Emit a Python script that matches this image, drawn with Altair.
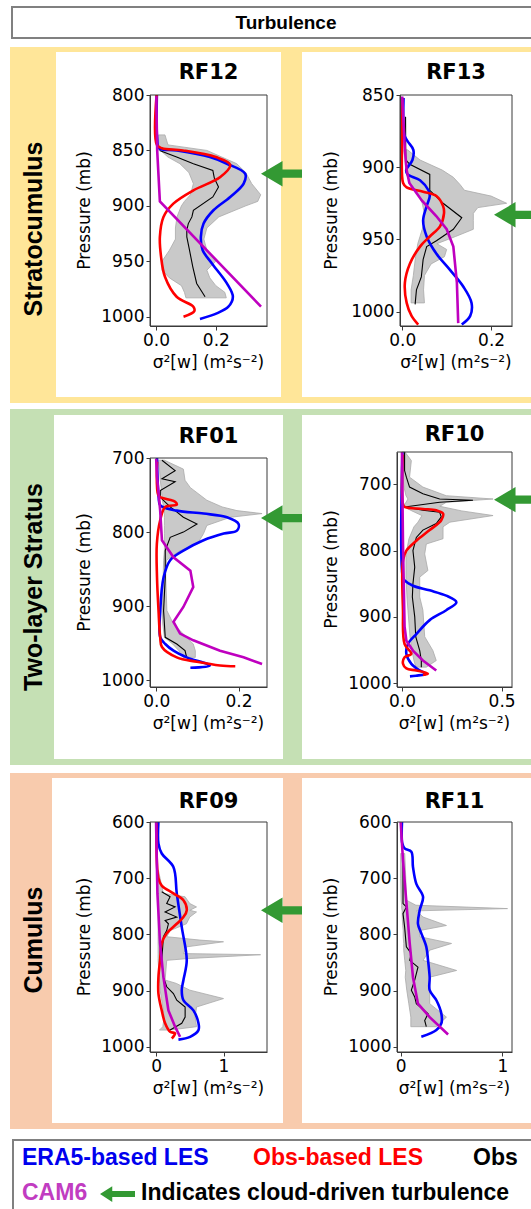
import altair as alt
import pandas as pd

W, H = 531, 1209

# ---------------- data ----------------
# RF12 (Stratocumulus)
RF12_BAND_P = [836, 845, 850, 856, 862, 870, 880, 890, 896, 900, 910, 920, 930, 940, 950, 958, 965, 972, 978, 983]
RF12_BAND_LO = [0.008, 0.008, 0.015, 0.04, 0.08, 0.11, 0.125, 0.115, 0.095, 0.085, 0.07, 0.065, 0.065, 0.045, 0.02, 0.02, 0.045, 0.085, 0.095, 0.10]
RF12_BAND_HI = [0.03, 0.04, 0.17, 0.22, 0.27, 0.30, 0.32, 0.35, 0.34, 0.30, 0.21, 0.17, 0.16, 0.17, 0.20, 0.17, 0.18, 0.20, 0.23, 0.235]
RF12_OBS_P = [850, 856, 862, 868, 875, 883, 892, 904, 910, 916, 922, 928, 940, 955, 970, 982]
RF12_OBS = [0.012, 0.069, 0.125, 0.19, 0.195, 0.209, 0.19, 0.125, 0.12, 0.108, 0.103, 0.103, 0.112, 0.123, 0.136, 0.164]
RF12_ERA5_P = [800, 840, 848, 850, 856, 862, 871, 880, 892, 904, 916, 928, 940, 952, 970, 982, 991, 997, 1002]
RF12_ERA5 = [0.003, 0.004, 0.01, 0.07, 0.18, 0.237, 0.298, 0.293, 0.248, 0.192, 0.159, 0.15, 0.156, 0.187, 0.237, 0.257, 0.242, 0.203, 0.147]
RF12_LES_P = [800, 845, 848, 850, 856, 863, 874, 886, 898, 910, 928, 946, 964, 982, 991, 995, 1000]
RF12_LES = [0.002, 0.003, 0.02, 0.09, 0.2, 0.248, 0.215, 0.125, 0.058, 0.025, 0.013, 0.017, 0.03, 0.069, 0.125, 0.128, 0.092]
RF12_CAM6_P = [801, 850, 896, 991]
RF12_CAM6 = [0.001, 0.004, 0.013, 0.351]

# RF13 (Stratocumulus)
RF13_BAND_P = [888, 895, 902, 907, 912, 916, 920, 925, 928, 932, 937, 943, 948, 953, 957, 962, 967, 975, 985, 994]
RF13_BAND_LO = [0.004, 0.006, 0.008, 0.012, 0.02, 0.03, 0.038, 0.045, 0.047, 0.05, 0.05, 0.045, 0.04, 0.035, 0.033, 0.03, 0.028, 0.025, 0.02, 0.02]
RF13_BAND_HI = [0.012, 0.04, 0.09, 0.115, 0.13, 0.14, 0.20, 0.235, 0.17, 0.16, 0.16, 0.16, 0.12, 0.078, 0.10, 0.095, 0.065, 0.05, 0.048, 0.05]
RF13_OBS_P = [865, 895, 898, 905, 916, 925, 935, 943, 951, 955, 964, 976, 985, 995]
RF13_OBS = [0.0075, 0.008, 0.017, 0.062, 0.062, 0.092, 0.134, 0.115, 0.077, 0.055, 0.047, 0.043, 0.032, 0.029]
RF13_ERA5_P = [852, 878, 882, 888, 895, 902, 905, 909, 916, 920, 927, 937, 948, 960, 971, 983, 994, 1003, 1009]
RF13_ERA5 = [0.003, 0.005, 0.012, 0.025, 0.023, 0.009, 0.012, 0.04, 0.059, 0.062, 0.055, 0.047, 0.055, 0.077, 0.107, 0.138, 0.156, 0.153, 0.134]
RF13_LES_P = [852, 878, 911, 914, 917, 920, 927, 932, 941, 948, 955, 967, 980, 994, 1003, 1009]
RF13_LES = [0.0, 0.0, 0.002, 0.01, 0.047, 0.077, 0.092, 0.094, 0.085, 0.062, 0.04, 0.017, 0.006, 0.01, 0.021, 0.036]
RF13_CAM6_P = [851, 888, 902, 911, 923, 934, 943, 955, 980, 1008]
RF13_CAM6 = [0.0, 0.006, 0.01, 0.016, 0.044, 0.077, 0.1, 0.115, 0.123, 0.126]

# RF01 (Two-layer Stratus)
RF01_BAND_P = [703, 715, 730, 740, 757, 766, 771, 775, 780, 791, 802, 816, 825, 838, 860, 906, 924, 942, 951, 960, 969]
RF01_BAND_LO = [0.005, 0.008, 0.01, 0.012, 0.015, 0.018, 0.02, 0.02, 0.02, 0.02, 0.02, 0.02, 0.02, 0.018, 0.017, 0.015, 0.016, 0.02, 0.04, 0.055, 0.065]
RF01_BAND_HI = [0.02, 0.066, 0.07, 0.083, 0.123, 0.16, 0.196, 0.257, 0.18, 0.123, 0.115, 0.10, 0.058, 0.025, 0.023, 0.026, 0.042, 0.074, 0.09, 0.095, 0.095]
RF01_OBS_P = [703, 717, 728, 732, 744, 753, 766, 771, 780, 789, 800, 807, 825, 861, 906, 942, 951, 960, 969]
RF01_OBS = [0.014, 0.046, 0.014, 0.046, 0.01, 0.01, 0.034, 0.046, 0.066, 0.099, 0.066, 0.034, 0.022, 0.022, 0.018, 0.022, 0.05, 0.07, 0.074]
RF01_ERA5_P = [700, 753, 764, 771, 775, 780, 789, 798, 802, 811, 825, 838, 861, 906, 942, 951, 960, 969, 980, 983]
RF01_ERA5 = [0.002, 0.006, 0.01, 0.05, 0.115, 0.172, 0.2, 0.196, 0.164, 0.115, 0.066, 0.034, 0.018, 0.01, 0.01, 0.022, 0.042, 0.074, 0.13, 0.083]
RF01_LES_P = [705, 750, 753, 756, 759, 763, 766, 784, 816, 861, 906, 942, 955, 969, 975, 980, 981]
RF01_LES = [0.002, 0.005, 0.011, 0.03, 0.046, 0.05, 0.022, 0.0097, 0.0016, 0.002, 0.0057, 0.0097, 0.014, 0.05, 0.099, 0.155, 0.192]
RF01_CAM6_P = [701, 725, 771, 811, 834, 852, 874, 901, 921, 937, 946, 960, 969, 978]
RF01_CAM6 = [0.0, 0.002, 0.0097, 0.014, 0.042, 0.083, 0.09, 0.066, 0.042, 0.058, 0.09, 0.155, 0.212, 0.257]

# RF10 (Two-layer Stratus)
RF10_BAND_P = [651, 664, 689, 704, 717, 722, 727, 733, 740, 747, 757, 764, 782, 790, 805, 830, 840, 870, 890, 930, 951, 966, 976]
RF10_BAND_LO = [0.0, 0.002, 0.005, 0.01, 0.02, 0.03, 0.02, 0.005, 0.05, 0.1, 0.08, 0.06, 0.035, 0.03, 0.02, 0.02, 0.02, 0.025, 0.03, 0.04, 0.05, 0.06, 0.07]
RF10_BAND_HI = [0.015, 0.047, 0.038, 0.105, 0.222, 0.457, 0.222, 0.19, 0.3, 0.457, 0.24, 0.206, 0.206, 0.122, 0.114, 0.13, 0.089, 0.089, 0.105, 0.114, 0.155, 0.172, 0.122]
RF10_OBS_P = [651, 679, 689, 704, 714, 722, 724, 727, 734, 739, 742, 749, 759, 769, 780, 800, 825, 850, 870, 900, 930, 951, 966, 976]
RF10_OBS = [0.013, 0.013, 0.022, 0.038, 0.105, 0.189, 0.356, 0.189, 0.013, 0.105, 0.189, 0.197, 0.172, 0.105, 0.072, 0.055, 0.064, 0.055, 0.052, 0.064, 0.069, 0.089, 0.097, 0.097]
RF10_ERA5_P = [651, 840, 845, 853, 860, 868, 878, 890, 905, 926, 941, 956, 971, 981, 986, 989, 990]
RF10_ERA5 = [0.002, 0.004, 0.013, 0.055, 0.139, 0.222, 0.273, 0.222, 0.139, 0.072, 0.03, 0.022, 0.047, 0.089, 0.122, 0.07, 0.04]
RF10_LES_P = [655, 730, 734, 737, 739, 744, 754, 769, 785, 800, 815, 890, 941, 956, 961, 971, 978, 981, 986, 988]
RF10_LES = [0.003, 0.005, 0.013, 0.105, 0.172, 0.206, 0.197, 0.139, 0.072, 0.022, 0.005, 0.005, 0.013, 0.047, 0.013, 0.005, 0.022, 0.072, 0.13, 0.105]
RF10_CAM6_P = [651, 790, 915, 936, 951, 966, 981]
RF10_CAM6 = [0.0, 0.005, 0.013, 0.022, 0.055, 0.105, 0.172]

# RF09 (Cumulus)
RF09_BAND_P = [686, 700, 727, 733, 745, 751, 757, 760, 769, 781, 793, 804, 810, 813, 822, 834, 836, 843, 846, 881, 887, 899, 914, 929, 947, 964, 970]
RF09_BAND_LO = [0.02, 0.02, 0.02, 0.025, 0.03, 0.03, 0.03, 0.03, 0.03, 0.03, 0.03, 0.03, 0.03, 0.03, 0.03, 0.03, 0.03, 0.03, 0.03, 0.05, 0.055, 0.06, 0.08, 0.1, 0.12, 0.1, 0.05]
RF09_BAND_HI = [0.035, 0.06, 0.109, 0.43, 0.5, 0.6, 0.5, 0.6, 0.5, 0.45, 0.21, 0.16, 0.65, 1.0, 0.455, 0.406, 1.55, 0.455, 0.158, 0.134, 0.3, 0.5, 1.0, 0.6, 0.58, 0.6, 0.2]
RF09_OBS_P = [724, 733, 745, 751, 760, 769, 775, 781, 793, 804, 846, 876, 893, 905, 917, 929, 947, 958, 970]
RF09_OBS = [0.084, 0.208, 0.158, 0.282, 0.134, 0.307, 0.134, 0.183, 0.158, 0.109, 0.084, 0.109, 0.158, 0.257, 0.307, 0.431, 0.431, 0.381, 0.208]
RF09_ERA5_P = [600, 638, 656, 680, 727, 787, 846, 881, 899, 917, 935, 958, 970, 982, 987]
RF09_ERA5 = [0.035, 0.035, 0.084, 0.257, 0.307, 0.381, 0.455, 0.406, 0.381, 0.406, 0.554, 0.629, 0.629, 0.505, 0.332]
RF09_LES_P = [602, 700, 713, 727, 739, 757, 769, 781, 798, 816, 846, 876, 905, 935, 958, 973, 976, 985]
RF09_LES = [0.005, 0.035, 0.084, 0.257, 0.406, 0.455, 0.406, 0.307, 0.158, 0.084, 0.059, 0.035, 0.035, 0.084, 0.134, 0.208, 0.282, 0.233]
RF09_CAM6_P = [600, 727, 816, 876, 935, 964, 982]
RF09_CAM6 = [0.0, 0.02, 0.059, 0.109, 0.183, 0.282, 0.356]

# RF11 (Cumulus, no obs-based LES)
RF11_BAND_P = [656, 700, 739, 748, 754, 758, 769, 784, 793, 804, 816, 828, 846, 864, 876, 899, 923, 947, 964]
RF11_BAND_LO = [0.0, 0.0, 0.005, 0.01, 0.01, 0.015, 0.015, 0.02, 0.025, 0.025, 0.03, 0.03, 0.04, 0.05, 0.045, 0.06, 0.08, 0.1, 0.1]
RF11_BAND_HI = [0.04, 0.05, 0.056, 0.15, 1.05, 0.154, 0.22, 0.45, 0.187, 0.187, 0.5, 0.285, 0.22, 0.55, 0.285, 0.285, 0.285, 0.45, 0.35]
RF11_OBS_P = [662, 745, 751, 763, 787, 822, 834, 846, 858, 881, 899, 911, 923, 941, 953, 964]
RF11_OBS = [0.023, 0.023, 0.056, 0.023, 0.039, 0.056, 0.105, 0.089, 0.17, 0.138, 0.105, 0.138, 0.154, 0.269, 0.236, 0.252]
RF11_ERA5_P = [600, 638, 647, 653, 680, 710, 733, 757, 781, 798, 822, 846, 876, 899, 917, 941, 958, 970, 982]
RF11_ERA5 = [0.013, 0.016, 0.039, 0.105, 0.121, 0.154, 0.22, 0.187, 0.17, 0.203, 0.252, 0.269, 0.285, 0.285, 0.351, 0.4, 0.4, 0.351, 0.203]
RF11_CAM6_P = [600, 668, 727, 816, 876, 923, 947, 978]
RF11_CAM6 = [0.0, 0.023, 0.049, 0.089, 0.121, 0.17, 0.285, 0.466]

# pressure levels marked by the green "cloud-driven turbulence" arrows
ARROW_P = {"RF12": 871, "RF13": 933, "RF01": 781, "RF10": 723, "RF09": 757}

SECTIONS = ["Stratocumulus", "Two-layer Stratus", "Cumulus"]
LEGEND_ROW1 = ["ERA5-based LES", "Obs-based LES", "Obs"]
LEGEND_ROW2 = ["CAM6", "Indicates cloud-driven turbulence"]

# ---------------- styles / layout ----------------
BLUE, RED, MAG, GREEN = "#0000ff", "#ff0000", "#bf00bf", "#339933"
FRAME = "#3a3a3a"
PF = "DejaVu Sans"
SF = "Liberation Sans"
XTITLE = "σ²[w] (m²s⁻²)"
ARROW = "M-1,0L0.05,-0.62L0.05,-0.2L1,-0.2L1,0.2L0.05,0.2L0.05,0.62Z"
ARROW_SMALL = "M-1,0L-0.3,-0.45L-0.3,-0.17L1,-0.17L1,0.17L-0.3,0.17L-0.3,0.45Z"
ONE = pd.DataFrame({"k": [0]})

PANELS = [
    dict(name="RF12", box=(150, 95, 267, 326), xdom=[-0.02, 0.371], ydom=[800, 1008.4],
         xticks=[0.0, 0.2], yticks=[800, 850, 900, 950, 1000], xfmt=".1f", ty=73, ytx=85, ax=281.5,
         band=(RF12_BAND_P, RF12_BAND_LO, RF12_BAND_HI), obs=(RF12_OBS_P, RF12_OBS),
         era5=(RF12_ERA5_P, RF12_ERA5), les=(RF12_LES_P, RF12_LES), cam6=(RF12_CAM6_P, RF12_CAM6)),
    dict(name="RF13", box=(400, 95, 512, 326), xdom=[-0.005, 0.247], ydom=[850, 1010],
         xticks=[0.0, 0.2], yticks=[850, 900, 950, 1000], xfmt=".1f", ty=73, ytx=332, ax=514.5,
         band=(RF13_BAND_P, RF13_BAND_LO, RF13_BAND_HI), obs=(RF13_OBS_P, RF13_OBS),
         era5=(RF13_ERA5_P, RF13_ERA5), les=(RF13_LES_P, RF13_LES), cam6=(RF13_CAM6_P, RF13_CAM6)),
    dict(name="RF01", box=(150, 458, 267, 687), xdom=[-0.015, 0.269], ydom=[700, 1009],
         xticks=[0.0, 0.2], yticks=[700, 800, 900, 1000], xfmt=".1f", ty=437, ytx=85, ax=281.5,
         band=(RF01_BAND_P, RF01_BAND_LO, RF01_BAND_HI), obs=(RF01_OBS_P, RF01_OBS),
         era5=(RF01_ERA5_P, RF01_ERA5), les=(RF01_LES_P, RF01_LES), cam6=(RF01_CAM6_P, RF01_CAM6)),
    dict(name="RF10", box=(397, 452, 512, 687), xdom=[-0.025, 0.552], ydom=[651, 1006],
         xticks=[0.0, 0.5], yticks=[700, 800, 900, 1000], xfmt=".1f", ty=435, ytx=332, ax=514.5,
         band=(RF10_BAND_P, RF10_BAND_LO, RF10_BAND_HI), obs=(RF10_OBS_P, RF10_OBS),
         era5=(RF10_ERA5_P, RF10_ERA5), les=(RF10_LES_P, RF10_LES), cam6=(RF10_CAM6_P, RF10_CAM6)),
    dict(name="RF09", box=(150, 822, 267, 1052), xdom=[-0.09, 1.645], ydom=[600, 1009],
         xticks=[0, 1], yticks=[600, 700, 800, 900, 1000], xfmt=".0f", ty=802, ytx=85, ax=281.5,
         band=(RF09_BAND_P, RF09_BAND_LO, RF09_BAND_HI), obs=(RF09_OBS_P, RF09_OBS),
         era5=(RF09_ERA5_P, RF09_ERA5), les=(RF09_LES_P, RF09_LES), cam6=(RF09_CAM6_P, RF09_CAM6)),
    dict(name="RF11", box=(397, 822, 512, 1052), xdom=[-0.036, 1.094], ydom=[600, 1009],
         xticks=[0, 1], yticks=[600, 700, 800, 900, 1000], xfmt=".0f", ty=802, ytx=332, ax=514.5,
         band=(RF11_BAND_P, RF11_BAND_LO, RF11_BAND_HI), obs=(RF11_OBS_P, RF11_OBS),
         era5=(RF11_ERA5_P, RF11_ERA5), les=None, cam6=(RF11_CAM6_P, RF11_CAM6)),
]


def rect(x, x2, y, y2, fill, stroke=None, sw=0):
    kw = dict(fill=fill)
    if stroke:
        kw.update(stroke=stroke, strokeWidth=sw)
    else:
        kw.update(strokeWidth=0)
    return alt.Chart(ONE).mark_rect(**kw).encode(
        x=alt.value(x), x2=alt.value(x2), y=alt.value(y), y2=alt.value(y2))


def text(s, x, y, size, color="black", font=PF, weight="normal", align="center", angle=0, baseline="middle"):
    kw = dict(text=s, fontSize=size, color=color, font=font, fontWeight=weight, align=align, baseline=baseline)
    if angle:
        kw["angle"] = angle
    return alt.Chart(ONE).mark_text(**kw).encode(x=alt.value(x), y=alt.value(y))


def build_panel(sp):
    l, t, r, b = sp["box"]
    xs = alt.Scale(domain=sp["xdom"], range=[l, r], nice=False, zero=False)
    ys = alt.Scale(domain=sp["ydom"], range=[t, b], nice=False, zero=False)
    common = dict(grid=False, title="", zindex=1, domainColor=FRAME, tickColor=FRAME, tickSize=4,
                  labelFont=PF, labelFontSize=17, labelColor="black", labelFlush=False, labelOverlap=False,
                  labelPadding=2)
    xax = alt.Axis(orient="bottom", offset=b - H, values=sp["xticks"], format=sp["xfmt"], **common)
    yax = alt.Axis(orient="left", offset=-l, values=sp["yticks"], format="d", **common)
    Y = alt.Y("p", type="quantitative", scale=ys, axis=yax)

    bp, blo, bhi = sp["band"]
    band = alt.Chart(pd.DataFrame({"p": bp, "lo": blo, "hi": bhi})).mark_area(
        orient="horizontal", fill="#c9c9c9", stroke="#a9a9a9", strokeWidth=0.8).encode(
        x=alt.X("lo", type="quantitative", scale=xs, axis=xax), x2=alt.X2("hi"), y=Y)

    def line(series, color, w, interp):
        p, v = series
        df = pd.DataFrame({"p": p, "v": v, "i": list(range(len(p)))})
        return alt.Chart(df).mark_line(color=color, strokeWidth=w, interpolate=interp).encode(
            x=alt.X("v", type="quantitative", scale=xs, axis=xax), y=Y, order=alt.Order("i:Q"))

    layers = [band, line(sp["obs"], "black", 1.1, "linear"), line(sp["era5"], BLUE, 2.6, "catmull-rom")]
    if sp["les"] is not None:
        layers.append(line(sp["les"], RED, 2.6, "catmull-rom"))
    layers.append(line(sp["cam6"], MAG, 2.6, "linear"))
    layers.append(alt.Chart(ONE).mark_rect(fillOpacity=0, stroke=FRAME, strokeWidth=1).encode(
        x=alt.value(l), x2=alt.value(r), y=alt.value(t), y2=alt.value(b)))
    if sp["name"] in ARROW_P:
        layers.append(alt.Chart(pd.DataFrame({"p": [ARROW_P[sp["name"]]]})).mark_point(
            shape=ARROW, size=1681, filled=True, fill=GREEN, opacity=1, strokeWidth=0).encode(
            x=alt.value(sp["ax"]), y=Y))
    deco = [
        text(sp["name"], (l + r) / 2, sp["ty"], 21, weight="bold"),
        text("Pressure (mb)", sp["ytx"], (t + b) / 2, 17, angle=270),
        text(XTITLE, (l + r) / 2, b + 37, 17),
    ]
    return alt.layer(*layers), deco


# ---------------- background / slide decorations ----------------
bg = [
    rect(12, 560, 7, 38, "white", "#808080", 2),
    rect(10, 560, 47, 403, "#FFE699"),
    rect(56, 281, 52, 397, "white"),
    rect(302, 560, 52, 397, "white"),
    rect(10, 560, 409, 765, "#C5E0B4"),
    rect(54, 283, 415, 759, "white"),
    rect(302, 560, 415, 759, "white"),
    rect(10, 560, 773, 1129, "#F8CBAD"),
    rect(52, 283, 778, 1123, "white"),
    rect(302, 560, 778, 1123, "white"),
    rect(13, 560, 1140, 1230, "white", "#808080", 2),
]

texts = [
    text("Turbulence", 286, 23, 19, font=SF, weight="bold"),
    text(SECTIONS[0], 34, 229, 25, font=SF, weight="bold", angle=270),
    text(SECTIONS[1], 34, 587, 25, font=SF, weight="bold", angle=270),
    text(SECTIONS[2], 34, 940, 25, font=SF, weight="bold", angle=270),
    text(LEGEND_ROW1[0], 22, 1165, 23, color="#0000ee", font=SF, weight="bold", align="left", baseline="alphabetic"),
    text(LEGEND_ROW1[1], 253, 1165, 23, color="#ff0000", font=SF, weight="bold", align="left", baseline="alphabetic"),
    text(LEGEND_ROW1[2], 473, 1165, 23, color="black", font=SF, weight="bold", align="left", baseline="alphabetic"),
    text(LEGEND_ROW2[0], 22, 1200, 23, color="#c13cc1", font=SF, weight="bold", align="left", baseline="alphabetic"),
    text(LEGEND_ROW2[1], 141, 1200, 23, color="black", font=SF, weight="bold", align="left", baseline="alphabetic"),
    alt.Chart(ONE).mark_point(shape=ARROW_SMALL, size=1225, filled=True, fill=GREEN, opacity=1, strokeWidth=0).encode(
        x=alt.value(117.5), y=alt.value(1194)),
]

panels = []
for sp in PANELS:
    pl, deco = build_panel(sp)
    panels.append(pl)
    texts.extend(deco)

chart = alt.layer(*bg, *panels, *texts).resolve_scale(
    x="independent", y="independent"
).properties(
    width=W, height=H, padding=0, autosize=alt.AutoSizeParams(type="none"), background="white"
).configure_view(stroke="transparent")

chart.save("out.html", embed_options={"renderer": "svg", "actions": False})
